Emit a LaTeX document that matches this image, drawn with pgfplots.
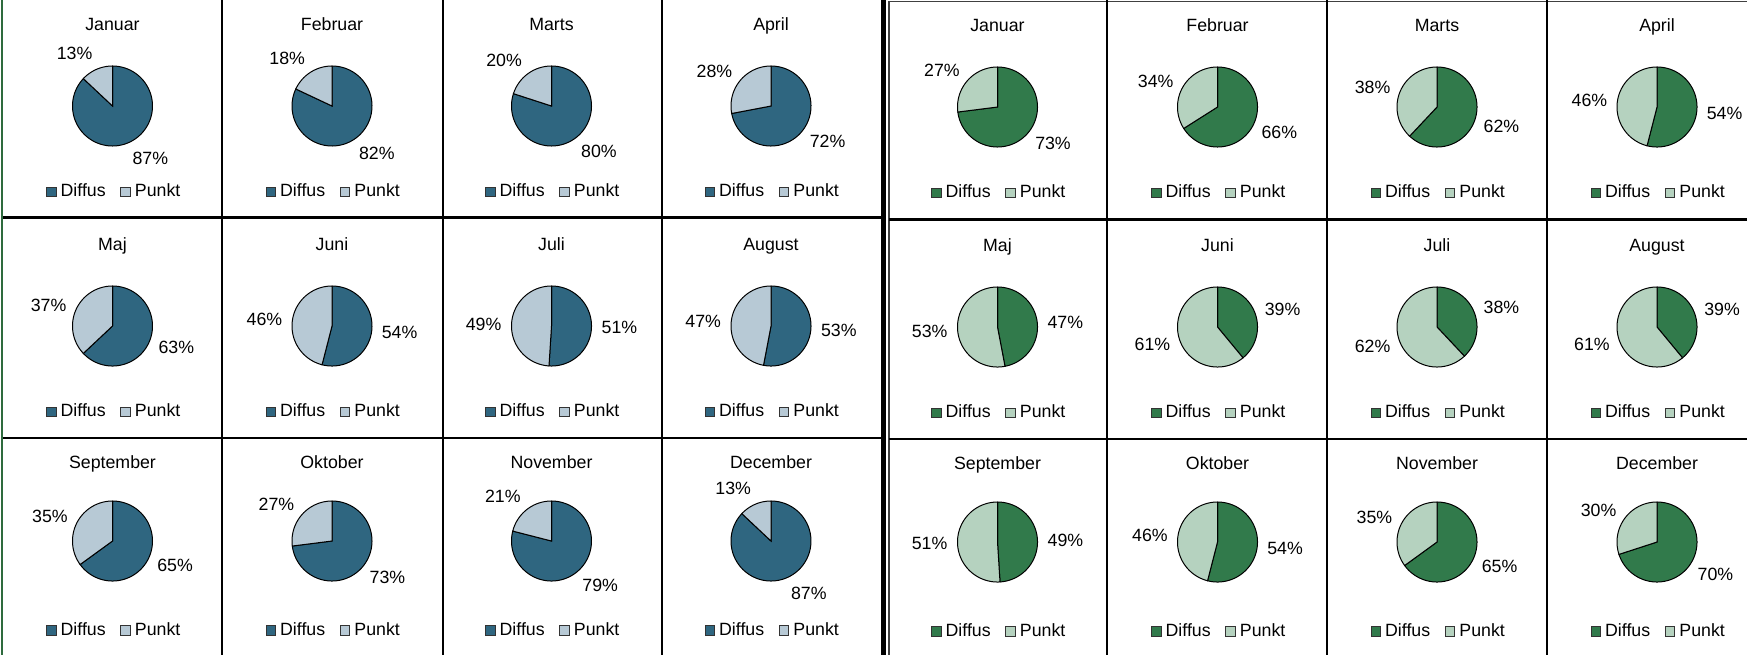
\documentclass[border=0pt]{standalone}
\usepackage{pgfplots}
\pgfplotsset{compat=1.18}
\usepackage{pgfplotstable}
\usepackage{fontspec}
\setmainfont{Liberation Sans}

\definecolor{bdark}{HTML}{2F6680}
\definecolor{blight}{HTML}{B7C9D5}
\definecolor{gdark}{HTML}{317A4B}
\definecolor{glight}{HTML}{B5D2BF}
\definecolor{edgegreen}{HTML}{2E6B3E}

\newcommand\chfont{\fontsize{7.1}{8}\selectfont}

\pgfplotstableread{
month d p
Januar 87 13
Februar 82 18
Marts 80 20
April 72 28
Maj 63 37
Juni 54 46
Juli 51 49
August 53 47
September 65 35
Oktober 73 27
November 79 21
December 87 13
}\bluedata

\pgfplotstableread{
month d p
Januar 73 27
Februar 66 34
Marts 62 38
April 54 46
Maj 47 53
Juni 39 61
Juli 38 62
August 39 61
September 49 51
Oktober 54 46
November 65 35
December 70 30
}\greendata

% #1 x centre (px), #2 pie centre y (px), #3 title baseline y (px), #4 legend rel y,
% #5 month, #6 diffus, #7 punkt, #8 dark colour, #9 light colour
\newcommand\piecell[9]{%
  \pgfmathsetmacro\thD{90-1.8*#6}%
  \pgfmathsetmacro\cD{cos(\thD)}%
  \pgfmathsetmacro\sD{sin(\thD)}%
  \pgfmathsetmacro\xD{1.25*\cD+0.45*sign(\cD)*min(1,3*abs(\cD))}%
  \pgfmathsetmacro\yD{1.25*\sD+0.19*\sD*abs(\sD)}%
  \pgfmathsetmacro\xP{-\xD}%
  \pgfmathsetmacro\yP{-\yD}%
  \pgfmathsetmacro\ax{0.4*#1}%
  \pgfmathsetmacro\ay{-0.4*#2}%
  \pgfmathsetmacro\tyy{-0.4*#3}%
  \pgfmathsetmacro\dstart{90-3.6*#6}%
  \pgfmathsetmacro\pend{90+3.6*#7}%
  \node[font=\chfont, anchor=base, inner sep=0pt] at (\ax pt,\tyy pt) {#5};
  \begin{axis}[at={(\ax pt,\ay pt)}, anchor=center, hide axis, scale only axis,
      width=32pt, height=32pt, xmin=-1, xmax=1, ymin=-1, ymax=1, clip=false,
      legend style={draw=none, fill=none, at={(0.52,#4)}, anchor=center,
        legend columns=2, font=\chfont, inner sep=0pt,
        /tikz/every odd column/.append style={column sep=0.9pt},
        /tikz/every even column/.append style={column sep=5.2pt},
        nodes={inner sep=0.7pt}},
      legend image code/.code={\draw[##1, line width=0.4pt, draw=black!80] (0pt,-1.9pt) rectangle (3.8pt,1.9pt);}]
    \addplot[fill=#8, draw=black, line width=0.4pt, domain=\dstart:90, samples=100, variable=\t]
      ({cos(\t)},{sin(\t)}) -- (axis cs:0,0) -- cycle;
    \addlegendentry{Diffus}
    \addplot[fill=#9, draw=black, line width=0.4pt, domain=90:\pend, samples=100, variable=\t]
      ({cos(\t)},{sin(\t)}) -- (axis cs:0,0) -- cycle;
    \addlegendentry{Punkt}
    \node[font=\chfont, inner sep=0pt] at (axis cs:\xD,\yD) {#6\%};
    \node[font=\chfont, inner sep=0pt] at (axis cs:\xP,\yP) {#7\%};
  \end{axis}
}

\begin{document}
\begin{tikzpicture}
\begin{scope}[x=0.4pt,y=-0.4pt]
  \useasboundingbox (0,0) rectangle (1747,655);
  % left grid
  \draw[line width=0.5pt, edgegreen] (2,0) -- (2,655);
  \foreach \xx in {222,442.5,662}{\draw[line width=0.8pt] (\xx,0) -- (\xx,655);}
  \foreach \yy in {217.5,438}{\draw[line width=1.0pt] (3,\yy) -- (881,\yy);}
  \draw[line width=2.2pt] (883.5,0) -- (883.5,655);
  % right grid
  \draw[line width=0.5pt, black!75] (889,655) -- (889,1.5) -- (1747,1.5);
  \foreach \xx in {1107,1327,1547}{\draw[line width=0.8pt] (\xx,0) -- (\xx,655);}
  \foreach \yy in {219.5,439}{\draw[line width=1.0pt] (889,\yy) -- (1747,\yy);}
\end{scope}

\foreach \i in {0,...,11}{
  \pgfmathtruncatemacro\col{mod(\i,4)}
  \pgfmathtruncatemacro\row{floor(\i/4)}
  \pgfplotstablegetelem{\i}{month}\of\bluedata \let\mon\pgfplotsretval
  \pgfplotstablegetelem{\i}{d}\of\bluedata \let\dv\pgfplotsretval
  \pgfplotstablegetelem{\i}{p}\of\bluedata \let\pv\pgfplotsretval
  \pgfmathsetmacro\xc{{112.5,332,551.5,771}[\col]}
  \pgfmathsetmacro\yc{{106,326,541}[\row]}
  \pgfmathsetmacro\ty{{30,250,468}[\row]}
  \pgfmathsetmacro\lr{{-0.575,-0.575,-0.62}[\row]}
  \piecell{\xc}{\yc}{\ty}{\lr}{\mon}{\dv}{\pv}{bdark}{blight}
}
\foreach \i in {0,...,11}{
  \pgfmathtruncatemacro\col{mod(\i,4)}
  \pgfmathtruncatemacro\row{floor(\i/4)}
  \pgfplotstablegetelem{\i}{month}\of\greendata \let\mon\pgfplotsretval
  \pgfplotstablegetelem{\i}{d}\of\greendata \let\dv\pgfplotsretval
  \pgfplotstablegetelem{\i}{p}\of\greendata \let\pv\pgfplotsretval
  \pgfmathsetmacro\xc{{997.5,1217.5,1437,1657}[\col]}
  \pgfmathsetmacro\yc{{107,327,542}[\row]}
  \pgfmathsetmacro\ty{{31,251,469}[\row]}
  \pgfmathsetmacro\lr{{-0.575,-0.575,-0.62}[\row]}
  \piecell{\xc}{\yc}{\ty}{\lr}{\mon}{\dv}{\pv}{gdark}{glight}
}
\end{tikzpicture}
\end{document}
